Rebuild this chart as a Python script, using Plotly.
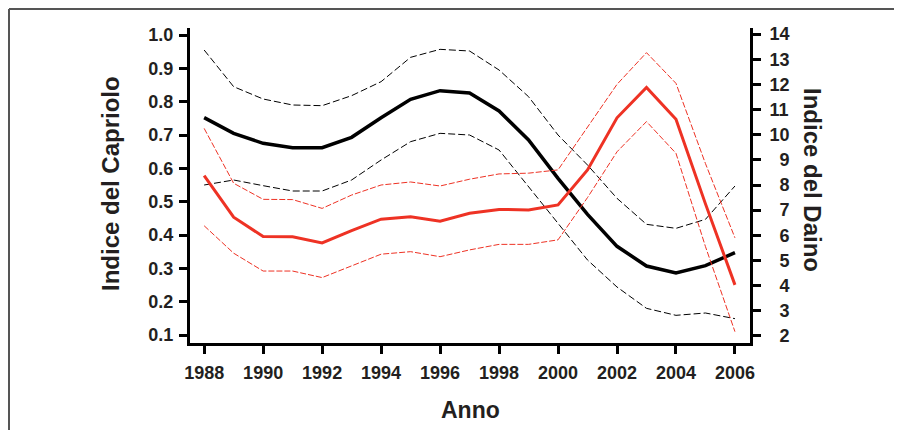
import plotly.graph_objects as go

years = list(range(1988, 2007))

capriolo_mean = [0.752, 0.705, 0.675, 0.662, 0.662, 0.693, 0.752, 0.807, 0.833, 0.826,
                 0.772, 0.685, 0.570, 0.462, 0.366, 0.307, 0.286, 0.308, 0.347]
capriolo_upper = [0.955, 0.845, 0.808, 0.790, 0.788, 0.818, 0.860, 0.933, 0.957, 0.952,
                  0.895, 0.815, 0.700, 0.610, 0.510, 0.432, 0.420, 0.447, 0.547]
capriolo_lower = [0.550, 0.565, 0.548, 0.532, 0.532, 0.565, 0.625, 0.680, 0.705, 0.700,
                  0.655, 0.545, 0.435, 0.325, 0.244, 0.180, 0.159, 0.166, 0.149]

daino_mean = [8.37, 6.72, 5.95, 5.94, 5.70, 6.19, 6.64, 6.74, 6.56, 6.88,
              7.03, 7.01, 7.21, 8.60, 10.67, 11.88, 10.61, 7.25, 4.03]
daino_upper = [10.25, 8.07, 7.43, 7.42, 7.07, 7.60, 8.00, 8.12, 7.96, 8.23,
               8.44, 8.47, 8.60, 10.30, 12.00, 13.26, 12.04, 8.85, 5.90]
daino_lower = [6.38, 5.29, 4.58, 4.58, 4.32, 4.78, 5.25, 5.35, 5.15, 5.42,
               5.64, 5.64, 5.82, 7.50, 9.32, 10.52, 9.26, 5.55, 2.17]

x_ticks = list(range(1988, 2007, 2))
left_ticks = [0.1, 0.2, 0.3, 0.4, 0.5, 0.6, 0.7, 0.8, 0.9, 1.0]
left_labels = ["0.1", "0.2", "0.3", "0.4", "0.5", "0.6", "0.7", "0.8", "0.9", "1.0"]
right_ticks = list(range(2, 15))
right_labels = ["\u2007" + str(v) if v < 10 else str(v) for v in right_ticks]

BLACK = "#000000"
RED = "#ee3224"
TXT = "#231f20"
FONT = "Liberation Sans, Arial, sans-serif"

fig = go.Figure()

fig.add_trace(go.Scatter(x=years, y=capriolo_upper, mode="lines",
                         line=dict(color=BLACK, width=1, dash="7px,3px"), yaxis="y"))
fig.add_trace(go.Scatter(x=years, y=capriolo_lower, mode="lines",
                         line=dict(color=BLACK, width=1, dash="7px,3px"), yaxis="y"))
fig.add_trace(go.Scatter(x=years, y=capriolo_mean, mode="lines",
                         line=dict(color=BLACK, width=3.5), yaxis="y"))
fig.add_trace(go.Scatter(x=years, y=daino_upper, mode="lines",
                         line=dict(color=RED, width=1, dash="6px,2px"), yaxis="y2"))
fig.add_trace(go.Scatter(x=years, y=daino_lower, mode="lines",
                         line=dict(color=RED, width=1, dash="6px,2px"), yaxis="y2"))
fig.add_trace(go.Scatter(x=years, y=daino_mean, mode="lines",
                         line=dict(color=RED, width=3), yaxis="y2"))

# page has an 8px body margin; work in figure coordinates
OFF = 8
W, H = 902 - OFF, 430 - OFF
L, T = 190 - OFF, 28 - OFF
R = W - (750 - OFF)
B = H - (343 - OFF)
pw, ph = W - L - R, H - T - B

def px_x(p):
    return (p - OFF - L) / pw

def px_y(p):
    return (H - B - (p - OFF)) / ph

tickfont = dict(family=FONT, size=18, color=TXT, weight="bold")
axis_common = dict(showline=True, linecolor=BLACK, linewidth=3, ticks="outside",
                   ticklen=8, tickwidth=3, tickcolor=BLACK, showgrid=False, zeroline=False,
                   tickfont=tickfont)

fig.update_layout(
    width=W, height=H,
    margin=dict(l=L, r=R, t=T, b=B),
    paper_bgcolor="white", plot_bgcolor="white",
    showlegend=False,
    xaxis=dict(range=[1987.52, 2006.51], tickvals=x_ticks, ticklabelstandoff=3, **axis_common),
    yaxis=dict(range=[0.076, 1.021], tickvals=left_ticks, ticktext=left_labels,
               ticklabelstandoff=2, **axis_common),
    yaxis2=dict(range=[1.72, 14.24], tickvals=right_ticks, ticktext=right_labels,
                overlaying="y", side="right", ticklabelstandoff=5, **axis_common),
    annotations=[
        dict(text="<b>Indice del Capriolo</b>", xref="paper", yref="paper",
             x=px_x(110), y=px_y(184), textangle=-90, showarrow=False,
             xanchor="center", yanchor="middle",
             font=dict(family=FONT, size=24, color=TXT)),
        dict(text="<b>Indice del Daino</b>", xref="paper", yref="paper",
             x=px_x(812), y=px_y(180), textangle=90, showarrow=False,
             xanchor="center", yanchor="middle",
             font=dict(family=FONT, size=24, color=TXT)),
        dict(text="<b>Anno</b>", xref="paper", yref="paper",
             x=px_x(470), y=px_y(410), showarrow=False,
             xanchor="center", yanchor="middle",
             font=dict(family=FONT, size=23, color=TXT)),
    ],
    shapes=[
        dict(type="line", xref="paper", yref="paper", x0=px_x(9), x1=px_x(920),
             y0=px_y(9), y1=px_y(9), line=dict(color="#555555", width=2)),
        dict(type="line", xref="paper", yref="paper", x0=px_x(9), x1=px_x(9),
             y0=px_y(9), y1=px_y(450), line=dict(color="#555555", width=2)),
    ],
)

fig.write_html("out.html")
